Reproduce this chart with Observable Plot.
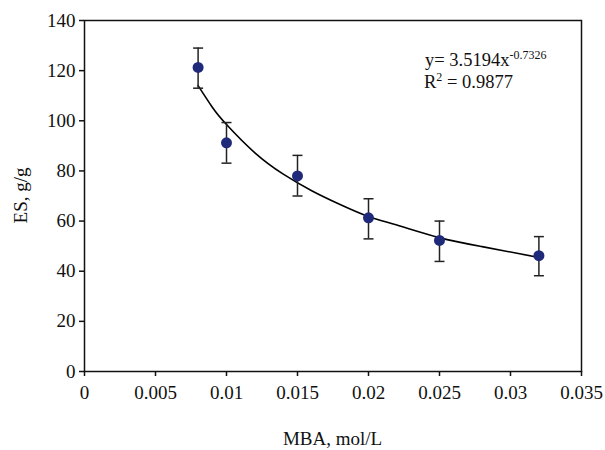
<!DOCTYPE html>
<html>
<head>
<meta charset="utf-8">
<script src="https://cdn.jsdelivr.net/npm/d3@7"></script>
<script src="https://cdn.jsdelivr.net/npm/@observablehq/plot@0.6"></script>
<style>
  html, body { margin: 0; padding: 0; background: #fff; }
  #chart svg, #chart svg text { font-family: "Liberation Serif", "Times New Roman", serif !important; }
</style>
</head>
<body>
<div id="chart"></div>
<script>
// Measured points (MBA concentration, mol/L) and swelling ES (g/g)
const mba = [0.008, 0.010, 0.015, 0.020, 0.025, 0.032];
const es = [121.3, 91.2, 78.0, 61.3, 52.3, 46.2];
const errLow = [113.0, 83.1, 70.0, 52.9, 43.9, 38.2];
const errHigh = [129.0, 99.3, 86.2, 68.9, 60.0, 53.8];

// Power trend line
const fitX = [0.008, 0.009, 0.010, 0.012, 0.014, 0.016, 0.018, 0.020, 0.022, 0.025, 0.028, 0.032];
const fitY = [114.0, 105.4, 98.5, 87.2, 78.7, 72.1, 66.6, 61.8, 58.4, 53.4, 49.8, 45.5];

const xTicks = [0, 0.005, 0.01, 0.015, 0.02, 0.025, 0.03, 0.035];
const xTickLabels = ["0", "0.005", "0.01", "0.015", "0.02", "0.025", "0.03", "0.035"];
const yTicks = [0, 20, 40, 60, 80, 100, 120, 140];

const eqMain = "y= 3.5194x";
const eqExp = "-0.7326";
const r2Main = "R";
const r2Sup = "2";
const r2Rest = " = 0.9877";

const xLabel = "MBA, mol/L";
const yLabel = "ES, g/g";

const points = mba.map((x, i) => ({x, y: es[i], lo: errLow[i], hi: errHigh[i]}));
const fit = fitX.map((x, i) => ({x, y: fitY[i]}));

const capSymbol = {
  draw(context, size) {
    context.moveTo(-5, 0);
    context.lineTo(5, 0);
  }
};

const serif = "'Liberation Serif', 'Times New Roman', serif";

const chart = Plot.plot({
  width: 605,
  height: 450,
  marginLeft: 84,
  marginRight: 24,
  marginTop: 20,
  marginBottom: 79,
  style: {fontFamily: serif, fontSize: "19px", color: "#111", background: "#fff"},
  x: {domain: [0, 0.035], label: null},
  y: {domain: [0, 140], label: null},
  marks: [
    Plot.frame({stroke: "#111", strokeWidth: 1.5}),
    Plot.axisX({ticks: xTicks, tickFormat: d => xTickLabels[xTicks.indexOf(d)], tickSize: 5, tickPadding: 9, stroke: "#111", strokeWidth: 1.5, fontSize: 19, fontFamily: serif, label: null}),
    Plot.axisY({ticks: yTicks, tickSize: 5, tickPadding: 4, stroke: "#111", strokeWidth: 1.5, fontSize: 19, fontFamily: serif, label: null}),
    Plot.line(fit, {x: "x", y: "y", curve: "natural", stroke: "#000", strokeWidth: 1.6}),
    Plot.ruleX(points, {x: "x", y1: "lo", y2: "hi", stroke: "#222", strokeWidth: 1.5}),
    Plot.dot(points, {x: "x", y: "lo", symbol: capSymbol, r: 5, stroke: "#222", strokeWidth: 1.5, fill: "none"}),
    Plot.dot(points, {x: "x", y: "hi", symbol: capSymbol, r: 5, stroke: "#222", strokeWidth: 1.5, fill: "none"}),
    Plot.dot(points, {x: "x", y: "y", r: 5.5, fill: "#1f2a7a", stroke: "none"})
  ]
});

document.getElementById("chart").appendChild(chart);

const svg = d3.select(chart);
const sx = chart.scale("x");
const sy = chart.scale("y");

// Axis titles
svg.append("text")
  .attr("x", (sx.apply(0) + sx.apply(0.035)) / 2)
  .attr("y", 445)
  .attr("text-anchor", "middle")
  .attr("font-size", 19)
  .attr("fill", "#111")
  .text(xLabel);

svg.append("text")
  .attr("transform", `translate(27, ${(sy.apply(0) + sy.apply(140)) / 2}) rotate(-90)`)
  .attr("text-anchor", "middle")
  .attr("font-size", 19)
  .attr("fill", "#111")
  .text(yLabel);

// Trend-line equation
const eq = svg.append("text")
  .attr("x", 425)
  .attr("y", 66)
  .attr("text-anchor", "start")
  .attr("font-size", 18.5)
  .attr("fill", "#111");
eq.append("tspan").text(eqMain);
eq.append("tspan").attr("dy", -7).attr("font-size", 12).text(eqExp);

const r2 = svg.append("text")
  .attr("x", 424)
  .attr("y", 88)
  .attr("text-anchor", "start")
  .attr("font-size", 18.5)
  .attr("fill", "#111");
r2.append("tspan").text(r2Main);
r2.append("tspan").attr("dy", -7).attr("font-size", 12).text(r2Sup);
r2.append("tspan").attr("dy", 7).text(r2Rest);
</script>
</body>
</html>
